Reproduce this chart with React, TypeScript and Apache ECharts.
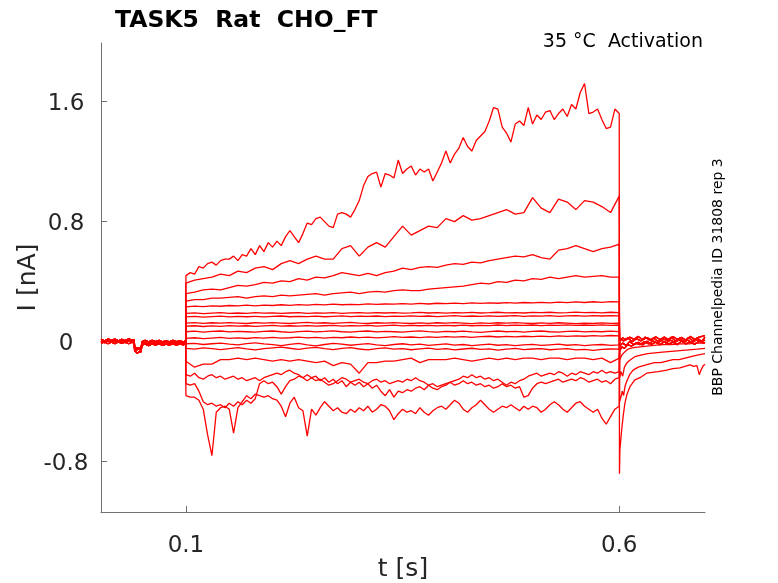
import { LineChart } from 'echarts/charts';
import { GraphicComponent, GridComponent, TitleComponent } from 'echarts/components';
import * as echarts from 'echarts/core';
import { SVGRenderer } from 'echarts/renderers';
import { useEffect, useRef } from 'react';

echarts.use([LineChart, GridComponent, TitleComponent, GraphicComponent, SVGRenderer]);

// axis ticks
const xTicks = [0.1, 0.6];
const yTicks = [-0.8, 0, 0.8, 1.6];

// sample times during the voltage step (s)
const stepT10 = [
  0.1, 0.11, 0.12, 0.13, 0.14, 0.15, 0.16, 0.17, 0.18, 0.19,
  0.2, 0.21, 0.22, 0.23, 0.24, 0.25, 0.26, 0.27, 0.28, 0.29,
  0.3, 0.31, 0.32, 0.33, 0.34, 0.35, 0.36, 0.37, 0.38, 0.39,
  0.4, 0.41, 0.42, 0.43, 0.44, 0.45, 0.46, 0.47, 0.48, 0.49,
  0.5, 0.51, 0.52, 0.53, 0.54, 0.55, 0.56, 0.57, 0.58, 0.59,
  0.6,
];
const stepT5 = [
  0.1, 0.105, 0.11, 0.115, 0.12, 0.125, 0.13, 0.135, 0.14, 0.145,
  0.15, 0.155, 0.16, 0.165, 0.17, 0.175, 0.18, 0.185, 0.19, 0.195,
  0.2, 0.205, 0.21, 0.215, 0.22, 0.225, 0.23, 0.235, 0.24, 0.245,
  0.25, 0.255, 0.26, 0.265, 0.27, 0.275, 0.28, 0.285, 0.29, 0.295,
  0.3, 0.305, 0.31, 0.315, 0.32, 0.325, 0.33, 0.335, 0.34, 0.345,
  0.35, 0.355, 0.36, 0.365, 0.37, 0.375, 0.38, 0.385, 0.39, 0.395,
  0.4, 0.405, 0.41, 0.415, 0.42, 0.425, 0.43, 0.435, 0.44, 0.445,
  0.45, 0.455, 0.46, 0.465, 0.47, 0.475, 0.48, 0.485, 0.49, 0.495,
  0.5, 0.505, 0.51, 0.515, 0.52, 0.525, 0.53, 0.535, 0.54, 0.545,
  0.55, 0.555, 0.56, 0.565, 0.57, 0.575, 0.58, 0.585, 0.59, 0.595,
  0.6,
];

// holding current before the step, [t, I]
const preA = [
  [0.002, 0.004], [0.006, -0.006], [0.01, 0.005], [0.014, -0.004], [0.018, 0.007], [0.022, -0.005],
  [0.026, 0.004], [0.03, -0.006], [0.034, 0.006], [0.038, -0.003], [0.0403, 0.002], [0.0408, -0.045],
  [0.043, -0.055], [0.0455, -0.05], [0.048, -0.056], [0.0495, -0.012], [0.053, -0.006], [0.057, -0.014],
  [0.061, -0.004], [0.065, -0.013], [0.069, -0.005], [0.073, -0.012], [0.077, -0.003], [0.081, -0.011],
  [0.085, -0.004], [0.089, -0.012], [0.093, -0.003], [0.097, -0.01], [0.0997, -0.004],
];
const preB = [
  [0.002, 0.016], [0.006, 0.006], [0.01, 0.018], [0.014, 0.008], [0.018, 0.017], [0.022, 0.005],
  [0.026, 0.015], [0.03, 0.007], [0.034, 0.018], [0.038, 0.009], [0.0403, 0.012], [0.0408, -0.035],
  [0.0435, -0.045], [0.046, -0.04], [0.048, -0.047], [0.0495, 0.0], [0.053, 0.008], [0.057, -0.002],
  [0.061, 0.009], [0.065, 0.0], [0.069, 0.008], [0.073, -0.001], [0.077, 0.007], [0.081, -0.002],
  [0.085, 0.008], [0.089, 0.0], [0.093, 0.006], [0.097, -0.002], [0.0997, 0.005],
];
const preC = [
  [0.002, -0.012], [0.006, -0.002], [0.01, -0.014], [0.014, -0.003], [0.018, -0.013], [0.022, -0.001],
  [0.026, -0.012], [0.03, -0.002], [0.034, -0.014], [0.038, -0.004], [0.0403, -0.008], [0.0408, -0.06],
  [0.043, -0.072], [0.044, -0.078], [0.046, -0.066], [0.048, -0.07], [0.0495, -0.022], [0.053, -0.016],
  [0.057, -0.026], [0.061, -0.015], [0.065, -0.024], [0.069, -0.014], [0.073, -0.025], [0.077, -0.016],
  [0.081, -0.023], [0.085, -0.013], [0.089, -0.024], [0.093, -0.015], [0.097, -0.022], [0.0997, -0.014],
];

// step currents (nA)
const i1 = [
  0.44, 0.46, 0.45, 0.5, 0.49, 0.52, 0.53, 0.51, 0.54, 0.55,
  0.55, 0.57, 0.54, 0.58, 0.57, 0.62, 0.58, 0.64, 0.6, 0.66,
  0.63, 0.67, 0.64, 0.7, 0.74, 0.7, 0.66, 0.72, 0.79, 0.78,
  0.82, 0.83, 0.8, 0.77, 0.76, 0.85, 0.86, 0.85, 0.83, 0.88,
  0.94, 1.04, 1.1, 1.12, 1.13, 1.03, 1.12, 1.11, 1.09, 1.21,
  1.12, 1.15, 1.17, 1.11, 1.15, 1.13, 1.15, 1.07, 1.13, 1.19,
  1.27, 1.19, 1.25, 1.29, 1.36, 1.3, 1.27, 1.34, 1.37, 1.4,
  1.47, 1.56, 1.55, 1.43, 1.39, 1.33, 1.45, 1.47, 1.44, 1.56,
  1.45, 1.51, 1.48, 1.53, 1.54, 1.48, 1.52, 1.55, 1.5, 1.58,
  1.55, 1.66, 1.72, 1.52, 1.53, 1.55, 1.48, 1.42, 1.43, 1.55,
  1.52,
];
const i2 = [
  0.39, 0.41, 0.42, 0.43, 0.45, 0.44, 0.47, 0.46, 0.49, 0.5,
  0.48, 0.52, 0.54, 0.52, 0.55, 0.57, 0.55, 0.55, 0.62, 0.64,
  0.57, 0.63, 0.66, 0.63, 0.7, 0.77, 0.71, 0.74, 0.77, 0.76,
  0.82, 0.8, 0.84, 0.81, 0.82, 0.84, 0.86, 0.88, 0.85, 0.86,
  0.96, 0.89, 0.86, 0.95, 0.93, 0.88, 0.94, 0.93, 0.9, 0.86,
  0.97,
];
const i3 = [
  0.32, 0.33, 0.345, 0.35, 0.345, 0.36, 0.375, 0.37, 0.38, 0.395,
  0.39, 0.405, 0.4, 0.42, 0.41, 0.43, 0.425, 0.44, 0.46, 0.45,
  0.44, 0.455, 0.44, 0.46, 0.47, 0.49, 0.48, 0.495, 0.5, 0.495,
  0.51, 0.52, 0.515, 0.53, 0.525, 0.54, 0.55, 0.56, 0.57, 0.565,
  0.58, 0.56, 0.55, 0.61, 0.62, 0.64, 0.62, 0.6, 0.62, 0.63,
  0.65,
];
const i4 = [
  0.27, 0.28, 0.28, 0.29, 0.29, 0.295, 0.3, 0.29, 0.3, 0.305,
  0.3, 0.31, 0.305, 0.31, 0.315, 0.32, 0.31, 0.32, 0.325, 0.33,
  0.32, 0.33, 0.335, 0.33, 0.34, 0.345, 0.34, 0.34, 0.35, 0.355,
  0.36, 0.365, 0.37, 0.38, 0.39, 0.385, 0.4, 0.395, 0.41, 0.405,
  0.42, 0.415, 0.43, 0.42, 0.43, 0.44, 0.43, 0.435, 0.44, 0.43,
  0.43,
];
const i5 = [
  0.232, 0.237, 0.234, 0.239, 0.236, 0.241, 0.238, 0.243, 0.239, 0.244,
  0.241, 0.246, 0.242, 0.247, 0.244, 0.248, 0.245, 0.25, 0.246, 0.249,
  0.247, 0.252, 0.248, 0.251, 0.25, 0.254, 0.25, 0.255, 0.251, 0.256,
  0.253, 0.257, 0.254, 0.258, 0.255, 0.259, 0.256, 0.26, 0.257, 0.261,
  0.258, 0.262, 0.259, 0.263, 0.26, 0.265, 0.261, 0.266, 0.262, 0.267,
  0.265,
];
const i6 = [
  0.188, 0.192, 0.187, 0.19, 0.193, 0.188, 0.191, 0.189, 0.193, 0.19,
  0.192, 0.188, 0.191, 0.194, 0.189, 0.192, 0.19, 0.193, 0.189, 0.192,
  0.194, 0.19, 0.193, 0.191, 0.194, 0.19, 0.192, 0.195, 0.191, 0.193,
  0.19, 0.194, 0.192, 0.195, 0.191, 0.193, 0.196, 0.192, 0.194, 0.191,
  0.195, 0.193, 0.196, 0.192, 0.194, 0.197, 0.193, 0.195, 0.192, 0.196,
  0.194,
];
const i7 = [
  0.165, 0.168, 0.164, 0.167, 0.17, 0.165, 0.168, 0.166, 0.169, 0.165,
  0.168, 0.171, 0.166, 0.169, 0.167, 0.17, 0.166, 0.169, 0.172, 0.167,
  0.17, 0.168, 0.171, 0.167, 0.17, 0.168, 0.172, 0.169, 0.171, 0.167,
  0.17, 0.173, 0.168, 0.171, 0.169, 0.172, 0.168, 0.171, 0.174, 0.169,
  0.172, 0.17, 0.173, 0.169, 0.172, 0.174, 0.17, 0.173, 0.171, 0.174,
  0.172,
];
const i8 = [
  0.124, 0.127, 0.122, 0.126, 0.123, 0.127, 0.124, 0.121, 0.126, 0.123,
  0.127, 0.124, 0.121, 0.125, 0.128, 0.123, 0.126, 0.122, 0.125, 0.128,
  0.124, 0.121, 0.126, 0.123, 0.127, 0.124, 0.121, 0.125, 0.122, 0.126,
  0.123, 0.127, 0.124, 0.12, 0.125, 0.122, 0.126, 0.123, 0.127, 0.124,
  0.121, 0.125, 0.122, 0.126, 0.123, 0.12, 0.124, 0.121, 0.125, 0.122,
  0.123,
];
const i9 = [
  0.103, 0.106, 0.101, 0.105, 0.102, 0.107, 0.103, 0.106, 0.102, 0.105,
  0.108, 0.103, 0.106, 0.104, 0.107, 0.103, 0.106, 0.109, 0.104, 0.107,
  0.105, 0.108, 0.104, 0.107, 0.11, 0.105, 0.108, 0.106, 0.109, 0.105,
  0.108, 0.106, 0.11, 0.106, 0.109, 0.107, 0.111, 0.107, 0.11, 0.108,
  0.111, 0.107, 0.11, 0.108, 0.112, 0.108, 0.111, 0.109, 0.112, 0.109,
  0.111,
];
const i10 = [
  0.066, 0.07, 0.064, 0.068, 0.071, 0.065, 0.069, 0.066, 0.063, 0.068,
  0.071, 0.066, 0.062, 0.067, 0.07, 0.065, 0.068, 0.072, 0.066, 0.063,
  0.068, 0.071, 0.065, 0.069, 0.066, 0.063, 0.068, 0.072, 0.067, 0.064,
  0.069, 0.066, 0.07, 0.065, 0.062, 0.067, 0.071, 0.066, 0.069, 0.064,
  0.068, 0.071, 0.066, 0.063, 0.068, 0.07, 0.065, 0.069, 0.066, 0.07,
  0.067,
];
const i11 = [
  0.022, 0.026, 0.02, 0.024, 0.028, 0.022, 0.025, 0.021, 0.027, 0.024,
  0.028, 0.023, 0.026, 0.03, 0.025, 0.028, 0.024, 0.029, 0.026, 0.031,
  0.027, 0.03, 0.025, 0.029, 0.033, 0.028, 0.031, 0.027, 0.032, 0.029,
  0.033, 0.03, 0.034, 0.029, 0.033, 0.036, 0.031, 0.035, 0.032, 0.036,
  0.033, 0.037, 0.034, 0.038, 0.035, 0.039, 0.036, 0.04, 0.037, 0.041,
  0.039,
];
const i12 = [
  -0.016, -0.012, -0.019, -0.014, -0.01, -0.017, -0.021, -0.013, -0.008, -0.015,
  -0.02, -0.027, -0.018, -0.012, -0.022, -0.028, -0.019, -0.011, -0.016, -0.024,
  -0.018, -0.013, -0.021, -0.026, -0.019, -0.014, -0.022, -0.017, -0.025, -0.02,
  -0.015, -0.023, -0.019, -0.026, -0.021, -0.016, -0.024, -0.02, -0.027, -0.022,
  -0.018, -0.025, -0.021, -0.017, -0.024, -0.02, -0.026, -0.022, -0.019, -0.025,
  -0.022,
];
const i13 = [
  -0.045, -0.05, -0.042, -0.047, -0.053, -0.046, -0.04, -0.048, -0.055, -0.047,
  -0.041, -0.036, -0.044, -0.051, -0.043, -0.038, -0.046, -0.053, -0.045, -0.04,
  -0.049, -0.055, -0.047, -0.042, -0.05, -0.046, -0.054, -0.048, -0.043, -0.051,
  -0.047, -0.055, -0.049, -0.044, -0.052, -0.048, -0.056, -0.05, -0.045, -0.053,
  -0.049, -0.046, -0.054, -0.05, -0.047, -0.055, -0.051, -0.058, -0.052, -0.049,
  -0.05,
];
const i14 = [
  -0.13, -0.17, -0.15, -0.15, -0.12, -0.12, -0.11, -0.12, -0.11, -0.12,
  -0.13, -0.12, -0.13, -0.12, -0.13, -0.14, -0.13, -0.16, -0.14, -0.15,
  -0.21, -0.14, -0.14, -0.13, -0.13, -0.12, -0.11, -0.14, -0.12, -0.12,
  -0.12, -0.11, -0.12, -0.13, -0.12, -0.11, -0.12, -0.11, -0.12, -0.11,
  -0.11, -0.12, -0.11, -0.11, -0.12, -0.11, -0.11, -0.12, -0.11, -0.14,
  -0.11,
];
const i15 = [
  -0.22, -0.23, -0.21, -0.24, -0.25, -0.23, -0.22, -0.24, -0.23, -0.25,
  -0.24, -0.23, -0.25, -0.24, -0.26, -0.25, -0.24, -0.26, -0.24, -0.23,
  -0.22, -0.21, -0.22, -0.2, -0.19, -0.21, -0.22, -0.24, -0.26, -0.24,
  -0.26, -0.25, -0.27, -0.29, -0.28, -0.26, -0.24, -0.25, -0.27, -0.26,
  -0.25, -0.27, -0.28, -0.26, -0.25, -0.27, -0.26, -0.28, -0.27, -0.26,
  -0.27, -0.25, -0.26, -0.24, -0.26, -0.27, -0.29, -0.28, -0.3, -0.29,
  -0.28, -0.27, -0.26, -0.25, -0.23, -0.24, -0.22, -0.24, -0.23, -0.25,
  -0.24, -0.26, -0.25, -0.27, -0.29, -0.27, -0.28, -0.26, -0.25, -0.23,
  -0.22, -0.21, -0.23, -0.22, -0.21, -0.22, -0.2, -0.21, -0.23, -0.21,
  -0.22, -0.2, -0.21, -0.22, -0.2, -0.21, -0.19, -0.21, -0.2, -0.21,
  -0.2,
];
const i16 = [
  -0.28, -0.29, -0.28, -0.33, -0.4, -0.42, -0.41, -0.43, -0.42, -0.44,
  -0.41, -0.43, -0.4, -0.42, -0.39, -0.41, -0.38, -0.28, -0.26, -0.28,
  -0.27, -0.3, -0.35, -0.3, -0.26, -0.25, -0.23, -0.24, -0.22, -0.24,
  -0.23, -0.26, -0.24, -0.27, -0.25, -0.28, -0.26, -0.3, -0.27, -0.29,
  -0.27, -0.3, -0.28, -0.31, -0.29, -0.33, -0.36, -0.32, -0.37, -0.33,
  -0.34, -0.32, -0.33, -0.31, -0.3, -0.32, -0.29, -0.31, -0.32, -0.3,
  -0.29, -0.27, -0.29, -0.28, -0.26, -0.28, -0.27, -0.29, -0.28, -0.3,
  -0.29, -0.31, -0.3, -0.28, -0.3, -0.29, -0.31, -0.3, -0.37, -0.36,
  -0.31, -0.28, -0.27, -0.28, -0.27, -0.26, -0.25, -0.27, -0.26, -0.25,
  -0.26, -0.24, -0.25, -0.27, -0.26, -0.25, -0.27, -0.26, -0.28, -0.25,
  -0.24,
];
const i17 = [
  -0.36, -0.37, -0.37, -0.39, -0.45, -0.62, -0.76, -0.47, -0.44, -0.43,
  -0.45, -0.61, -0.44, -0.4, -0.36, -0.38, -0.35, -0.36, -0.37, -0.36,
  -0.38, -0.39, -0.43, -0.5, -0.41, -0.37, -0.44, -0.46, -0.63, -0.45,
  -0.49, -0.44, -0.4, -0.43, -0.46, -0.44, -0.47, -0.48, -0.45, -0.47,
  -0.44, -0.46, -0.43, -0.47, -0.45, -0.42, -0.43, -0.46, -0.52, -0.48,
  -0.45, -0.47, -0.46, -0.48, -0.44, -0.47, -0.49, -0.46, -0.44, -0.43,
  -0.45, -0.42, -0.39, -0.41, -0.45, -0.47, -0.44, -0.42, -0.39, -0.42,
  -0.45, -0.47, -0.45, -0.43, -0.44, -0.42, -0.44, -0.46, -0.43, -0.45,
  -0.43, -0.44, -0.47, -0.45, -0.42, -0.4, -0.42, -0.45, -0.47, -0.44,
  -0.41, -0.4, -0.43, -0.45, -0.47, -0.45, -0.51, -0.55, -0.5, -0.45,
  -0.43,
];

// tail currents after the step, [t, I]
const tailDeep = [
  [0.6003, -0.88], [0.6008, -0.72], [0.6028, -0.59], [0.6045, -0.5], [0.6066, -0.41], [0.609, -0.35],
  [0.6124, -0.3], [0.6181, -0.255], [0.624, -0.24], [0.6316, -0.21], [0.638, -0.205], [0.645, -0.2],
  [0.6547, -0.19], [0.662, -0.18], [0.67, -0.175], [0.6816, -0.155], [0.686, -0.165], [0.6897, -0.16],
  [0.6924, -0.22], [0.6943, -0.19], [0.697, -0.16], [0.699, -0.15],
];
const tailMid = [
  [0.6005, -0.4], [0.602, -0.37], [0.6035, -0.33], [0.605, -0.36], [0.607, -0.29], [0.609, -0.26],
  [0.612, -0.22], [0.616, -0.19], [0.622, -0.17], [0.628, -0.16], [0.634, -0.15], [0.641, -0.14],
  [0.648, -0.14], [0.655, -0.13], [0.662, -0.12], [0.669, -0.12], [0.676, -0.11], [0.683, -0.1],
  [0.69, -0.09], [0.699, -0.08],
];
const tailSmall = [
  [0.6005, -0.24], [0.602, -0.2], [0.604, -0.23], [0.606, -0.17], [0.609, -0.14], [0.613, -0.12],
  [0.618, -0.1], [0.625, -0.09], [0.633, -0.08], [0.641, -0.075], [0.65, -0.07], [0.66, -0.065],
  [0.67, -0.06], [0.68, -0.055], [0.69, -0.05], [0.699, -0.045],
];
const tailTiny = [
  [0.6005, -0.12], [0.603, -0.09], [0.606, -0.07], [0.61, -0.05], [0.616, -0.04], [0.624, -0.035],
  [0.632, -0.03], [0.64, -0.025], [0.65, -0.02], [0.66, -0.02], [0.67, -0.015], [0.68, -0.015],
  [0.69, -0.01], [0.699, -0.01],
];
const tailZa = [
  [0.6005, 0.02], [0.605, 0.005], [0.61, 0.025], [0.615, 0.0], [0.62, 0.02], [0.625, 0.005],
  [0.63, 0.03], [0.635, 0.01], [0.64, 0.025], [0.645, 0.0], [0.65, 0.02], [0.655, 0.008],
  [0.66, 0.03], [0.665, 0.005], [0.67, 0.022], [0.675, 0.0], [0.68, 0.028], [0.685, 0.006],
  [0.69, 0.024], [0.695, 0.002], [0.699, 0.03],
];
const tailZb = [
  [0.6005, -0.03], [0.604, -0.01], [0.608, -0.025], [0.612, 0.0], [0.617, -0.02], [0.622, -0.005],
  [0.627, -0.022], [0.632, 0.002], [0.637, -0.018], [0.642, -0.004], [0.647, -0.02], [0.652, 0.0],
  [0.657, -0.016], [0.662, -0.003], [0.667, -0.02], [0.672, 0.004], [0.677, -0.015], [0.682, 0.0],
  [0.687, -0.018], [0.692, 0.003], [0.699, -0.012],
];
const tailZc = [
  [0.6005, -0.06], [0.603, -0.035], [0.606, -0.045], [0.61, -0.02], [0.614, -0.03], [0.619, -0.01],
  [0.624, -0.02], [0.629, 0.0], [0.634, -0.015], [0.639, 0.005], [0.644, -0.01], [0.649, 0.008],
  [0.654, -0.008], [0.659, 0.01], [0.664, -0.005], [0.669, 0.012], [0.674, -0.004], [0.679, 0.01],
  [0.684, -0.006], [0.689, 0.012], [0.694, -0.002], [0.699, 0.01],
];
const tailZd = [
  [0.6005, 0.01], [0.604, 0.025], [0.608, 0.012], [0.612, 0.03], [0.617, 0.015], [0.622, 0.035],
  [0.627, 0.012], [0.632, 0.028], [0.637, 0.01], [0.642, 0.032], [0.647, 0.014], [0.652, 0.03],
  [0.657, 0.012], [0.662, 0.034], [0.667, 0.015], [0.672, 0.028], [0.677, 0.01], [0.682, 0.035],
  [0.687, 0.016], [0.692, 0.03], [0.699, 0.04],
];

const sweeps = [
  { pre: preA, t: stepT5, i: i1, tail: tailDeep },
  { pre: preB, t: stepT10, i: i2, tail: tailMid },
  { pre: preC, t: stepT10, i: i3, tail: tailSmall },
  { pre: preA, t: stepT10, i: i4, tail: tailTiny },
  { pre: preB, t: stepT10, i: i5, tail: tailZa },
  { pre: preC, t: stepT10, i: i6, tail: tailZb },
  { pre: preA, t: stepT10, i: i7, tail: tailZc },
  { pre: preB, t: stepT10, i: i8, tail: tailZd },
  { pre: preC, t: stepT10, i: i9, tail: tailZa },
  { pre: preA, t: stepT10, i: i10, tail: tailZb },
  { pre: preB, t: stepT10, i: i11, tail: tailZc },
  { pre: preC, t: stepT10, i: i12, tail: tailZd },
  { pre: preA, t: stepT10, i: i13, tail: tailZa },
  { pre: preB, t: stepT10, i: i14, tail: tailZb },
  { pre: preC, t: stepT5, i: i15, tail: tailZc },
  { pre: preA, t: stepT5, i: i16, tail: tailZd },
  { pre: preB, t: stepT5, i: i17, tail: tailZb },
];

const FONT = 'DejaVu Sans';
const TEXT = '#262626';
const AXIS = '#707070';

export default function App() {
  const ref = useRef<HTMLDivElement | null>(null);

  useEffect(() => {
    if (!ref.current) return undefined;
    const chart = echarts.init(ref.current, undefined, { renderer: 'svg' });

    const series = sweeps.map((s, k) => ({
      type: 'line' as const,
      name: `sweep ${k + 1}`,
      data: [...s.pre, ...s.t.map((t, j) => [t, s.i[j]]), ...s.tail],
      showSymbol: false,
      silent: true,
      lineStyle: { color: '#ff0000', width: 1.3 },
    }));

    chart.setOption({
      animation: false,
      textStyle: { fontFamily: FONT },
      title: [
        {
          text: 'TASK5  Rat  CHO_FT',
          left: 115,
          top: 7,
          padding: 0,
          textStyle: { fontFamily: FONT, fontSize: 23.5, fontWeight: 'bold', color: '#000' },
        },
        {
          text: '35 °C  Activation',
          right: 75,
          top: 30,
          padding: 0,
          textStyle: { fontFamily: FONT, fontSize: 19, fontWeight: 'normal', color: '#000' },
        },
      ],
      graphic: [
        {
          type: 'text',
          x: 717,
          y: 277,
          rotation: Math.PI / 2,
          style: {
            text: 'BBP Channelpedia ID 31808 rep 3',
            fontFamily: FONT,
            fontSize: 14,
            fill: '#000',
            align: 'center',
            verticalAlign: 'middle',
          },
        },
      ],
      grid: { left: 101, right: 73, top: 43, bottom: 71, outerBoundsMode: 'none' },
      xAxis: {
        type: 'value',
        min: 0.002,
        max: 0.699,
        name: 't [s]',
        nameLocation: 'middle',
        nameGap: 43,
        nameMoveOverlap: false,
        nameTextStyle: { fontFamily: FONT, fontSize: 25, color: TEXT },
        axisLine: { onZero: false, lineStyle: { color: AXIS, width: 1 } },
        axisTick: { inside: true, length: 6, customValues: xTicks, lineStyle: { color: AXIS } },
        axisLabel: { customValues: xTicks, fontFamily: FONT, fontSize: 23, color: TEXT, margin: 20 },
        splitLine: { show: false },
      },
      yAxis: {
        type: 'value',
        min: -1.135,
        max: 1.99,
        name: 'I [nA]',
        nameLocation: 'middle',
        nameGap: 62,
        nameMoveOverlap: false,
        nameTextStyle: { fontFamily: FONT, fontSize: 25, color: TEXT },
        axisLine: { show: true, onZero: false, lineStyle: { color: AXIS, width: 1 } },
        axisTick: { show: true, inside: true, length: 6, customValues: yTicks, lineStyle: { color: AXIS } },
        axisLabel: {
          customValues: yTicks,
          fontFamily: FONT,
          fontSize: 23,
          color: TEXT,
          margin: 35,
          align: 'center',
        },
        splitLine: { show: false },
      },
      series,
    });

    return () => {
      chart.dispose();
    };
  }, []);

  return <div ref={ref} style={{ position: 'fixed', left: 0, top: 0, width: 778, height: 583 }} />;
}
